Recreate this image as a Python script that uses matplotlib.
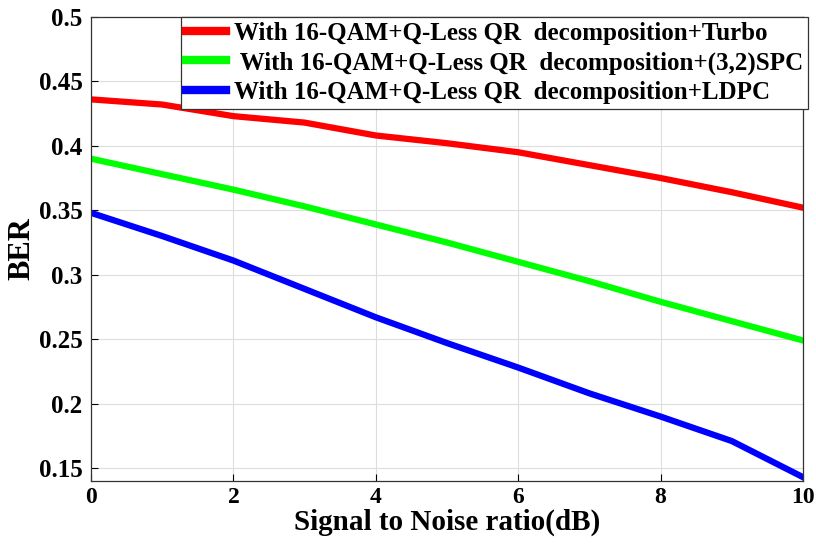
import numpy as np
import matplotlib.pyplot as plt

plt.rcParams['font.family'] = ['Liberation Serif', 'DejaVu Serif']
plt.rcParams['font.weight'] = 'bold'

snr = [0, 1, 2, 3, 4, 5, 6, 7, 8, 9, 10]
ber_turbo = [0.436, 0.432, 0.423, 0.418, 0.408, 0.402, 0.395, 0.385, 0.375, 0.364, 0.352]
ber_spc = [0.390, 0.378, 0.366, 0.353, 0.339, 0.325, 0.310, 0.295, 0.279, 0.264, 0.249]
ber_ldpc = [0.348, 0.330, 0.311, 0.289, 0.267, 0.247, 0.228, 0.208, 0.190, 0.171, 0.143]
labels = ['With 16-QAM+Q-Less QR  decomposition+Turbo',
          ' With 16-QAM+Q-Less QR  decomposition+(3,2)SPC',
          'With 16-QAM+Q-Less QR  decomposition+LDPC']

fig = plt.figure(figsize=(8.16, 5.44), dpi=100)
ax = fig.add_axes([0.1115, 0.1158, 0.8725, 0.8532])

ax.plot(snr, ber_turbo, color='#ff0000', lw=4.5, label=labels[0])
ax.plot(snr, ber_spc, color='#00ff00', lw=4.5, label=labels[1])
ax.plot(snr, ber_ldpc, color='#0000ff', lw=4.5, label=labels[2])

ax.set_xlim(0, 10)
ax.set_ylim(0.14, 0.5)
ax.set_xticks([0, 2, 4, 6, 8, 10])
ax.set_yticks([0.15, 0.2, 0.25, 0.3, 0.35, 0.4, 0.45, 0.5])
ax.set_yticklabels(['0.15', '0.2', '0.25', '0.3', '0.35', '0.4', '0.45', '0.5'])
ax.grid(True, color='#dddddd', lw=0.8)
ax.tick_params(labelsize=18, direction='in', length=5, width=0.8)
ax.tick_params(axis='x', pad=4, labelsize=17)
ax.tick_params(axis='y', pad=6)
for s in ax.spines.values():
    s.set_linewidth(0.9)
    s.set_color('#333333')

ax.set_xlabel('Signal to Noise ratio(dB)', fontsize=21, fontweight='bold', labelpad=1)
ax.set_ylabel('BER', fontsize=22, fontweight='bold', labelpad=2)

leg = ax.legend(loc='upper right', bbox_to_anchor=(1.007, 1.0), fontsize=18,
                handlelength=1.6, handletextpad=0.3, borderpad=0.2,
                labelspacing=0.25, fancybox=False, framealpha=1, borderaxespad=0)
for h in leg.get_lines():
    h.set_linewidth(6)
leg.get_frame().set_edgecolor('#333333')
leg.get_frame().set_linewidth(0.9)

fig.savefig('out.png', dpi=100)
